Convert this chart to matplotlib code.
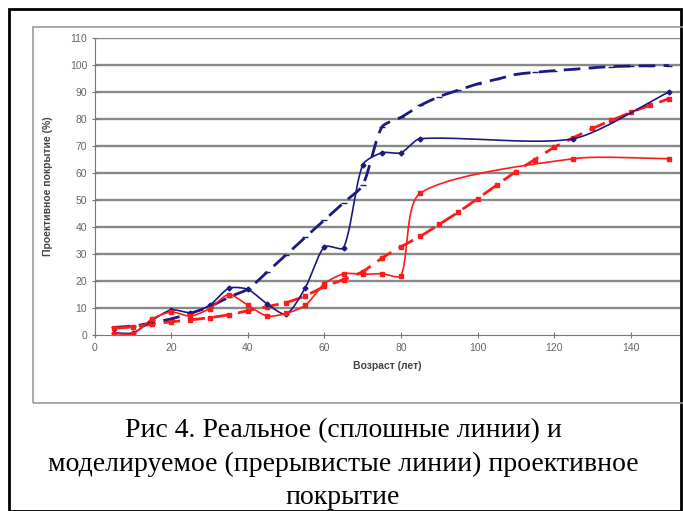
import numpy as np
import matplotlib
matplotlib.use("Agg")
import matplotlib.pyplot as plt
from matplotlib.patches import Rectangle

# real (solid) coverage
real_x = [5, 10, 15, 20, 25, 30, 35, 40, 45, 50, 55, 60, 65, 70, 75, 80, 85, 125, 150]
real_blue = [0.8, 0.8, 5.5, 9.3, 8.3, 11, 17.3, 16.9, 11.5, 7.7, 17.5, 32.7, 32.3, 63, 67.5, 67.5, 72.7, 72.7, 90]
real_red = [0.5, 0.5, 6, 8.5, 7, 9.8, 15, 11, 7, 8, 11, 19, 22.7, 22.5, 22.7, 22, 52.5, 65.3, 65.3]

# modelled (dashed) coverage
model_x = [5, 10, 15, 20, 25, 30, 35, 40, 45, 50, 55, 60, 65, 70, 75, 80, 85, 90, 95,
           100, 105, 110, 115, 120, 125, 130, 135, 140, 145, 150]
model_blue = [2.8, 3.3, 4.5, 6, 8, 10.5, 14, 17, 23.3, 29.7, 36.2, 42.6, 49, 55.5, 77, 80.6,
              85, 88.3, 90.7, 93, 94.7, 96.5, 97.3, 97.9, 98.4, 99, 99.4, 99.6, 99.7, 99.8]
model_red = [2.5, 3, 4, 4.9, 5.6, 6.4, 7.5, 9, 10.5, 12, 14.5, 18, 20.5, 23.5, 28.5, 32.7,
             36.5, 41, 45.5, 50.5, 55.5, 60.5, 65, 69.5, 73, 76.5, 79.5, 82.5, 85, 87.5]

xticks = [0, 20, 40, 60, 80, 100, 120, 140]
yticks = list(range(0, 111, 10))

# pixels per data unit, so the smoothing works in screen space
KX, KY = 3.826, 2.7


def smooth(x, y, n=24, k=0.75):
    # Excel-like smoothed line: Hermite segments, tangents split by segment length
    P = np.column_stack([np.asarray(x, float) * KX, np.asarray(y, float) * KY])
    npts = len(P)
    seg = [np.linalg.norm(P[i + 1] - P[i]) for i in range(npts - 1)]
    t = np.linspace(0, 1, n, endpoint=False)[:, None]
    h00 = 2 * t**3 - 3 * t**2 + 1
    h10 = t**3 - 2 * t**2 + t
    h01 = -2 * t**3 + 3 * t**2
    h11 = t**3 - t**2
    pts = []
    for i in range(npts - 1):
        a = P[max(i - 1, 0)]
        b = P[min(i + 2, npts - 1)]
        lin = seg[i - 1] if i > 0 else 0
        lout = seg[i + 1] if i + 1 < npts - 1 else 0
        m1 = (P[i + 1] - a) * seg[i] / (seg[i] + lin) * k
        m2 = (b - P[i]) * seg[i] / (seg[i] + lout) * k
        pts.append(h00 * P[i] + h10 * m1 + h01 * P[i + 1] + h11 * m2)
    pts.append(P[-1:])
    pts = np.vstack(pts)
    return pts[:, 0] / KX, pts[:, 1] / KY


fig = plt.figure(figsize=(6.83, 5.11), dpi=100)
W, H = 683, 511

# outer black frame and inner grey chart box
fig.patches.append(Rectangle((9 / W, 0), 672 / W, 1 - 9 / H, transform=fig.transFigure,
                             fill=False, edgecolor='black', linewidth=2))
fig.patches.append(Rectangle((33 / W, 1 - 403 / H), 660 / W, 376 / H, transform=fig.transFigure,
                             fill=False, edgecolor='#999999', linewidth=1.2))

ax = fig.add_axes([94.8 / W, 1 - 335 / H, (680 - 94.8) / W, 297 / H])
ax.set_xlim(0, 152.9)
ax.set_ylim(0, 110)

for v in yticks[1:]:
    ax.axhline(v, color='#888888', linewidth=1.7, zorder=0)

sx, sy = smooth(model_x, model_blue)
ax.plot(sx, sy, color='#1a1a80', linewidth=2, dashes=(6, 3))
ax.plot(model_x, model_blue, linestyle='none', marker='_', markersize=4, color='#1a1a80')
sx, sy = smooth(model_x, model_red)
ax.plot(sx, sy, color='#ff1a1a', linewidth=2, dashes=(6, 3))
ax.plot(model_x, model_red, linestyle='none', marker='s', markersize=2.5, color='#ff1a1a')

sx, sy = smooth(real_x, real_blue)
ax.plot(sx, sy, color='#1a1a80', linewidth=1.2)
ax.plot(real_x, real_blue, linestyle='none', marker='D', markersize=2.5, color='#1a1a80')
sx, sy = smooth(real_x, real_red)
ax.plot(sx, sy, color='#ff1a1a', linewidth=1.2)
ax.plot(real_x, real_red, linestyle='none', marker='s', markersize=3, color='#ff1a1a')

ax.set_xticks(xticks)
ax.set_yticks(yticks)
ax.tick_params(labelsize=7.5, labelcolor='#666666', color='#777777', length=4, direction='inout')
for lab in ax.get_xticklabels() + ax.get_yticklabels():
    lab.set_family('Liberation Sans')
for s in ('top', 'right'):
    ax.spines[s].set_visible(False)
for s in ('left', 'bottom'):
    ax.spines[s].set_color('#777777')

ax.set_xlabel('Возраст (лет)', fontsize=7.5, fontweight='bold', color='#444444',
              family='Liberation Sans', labelpad=6)
ax.set_ylabel('Проективное покрытие (%)', fontsize=7.5, fontweight='bold', color='#444444',
              family='Liberation Sans', labelpad=12)

caption = ['Рис 4. Реальное (сплошные линии) и',
           'моделируемое (прерывистые линии) проективное',
           'покрытие']
for i, line in enumerate(caption):
    fig.text(343 / W, 1 - (431 + 33.5 * i) / H, line, ha='center', va='center',
             fontsize=20, family='Liberation Serif')

fig.savefig('out.png', dpi=100)
